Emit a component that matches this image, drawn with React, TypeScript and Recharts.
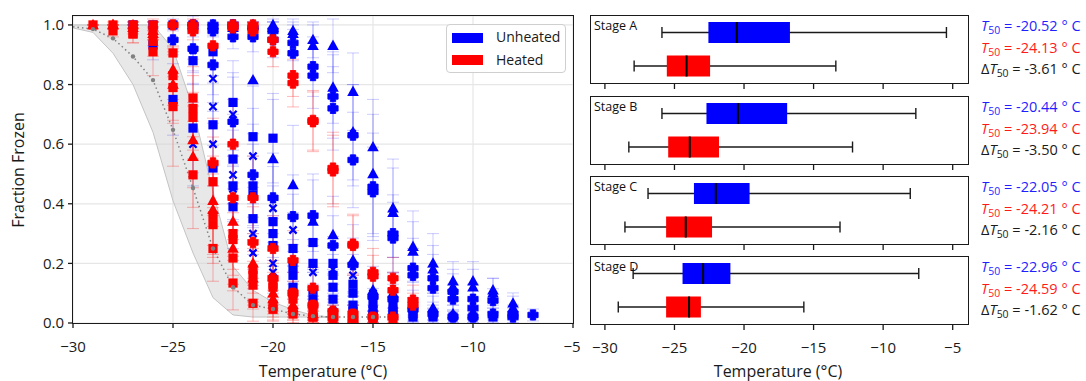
import React from 'react';
import {
  ComposedChart, Scatter, XAxis, YAxis, CartesianGrid, ErrorBar, Area, Line,
  BarChart, Bar,
} from 'recharts';

const FONT = "'Open Sans', 'DejaVu Sans', sans-serif";

// ---------- left panel data ----------
type Pt = [number, number, number]; // temperature, fraction frozen, error

const xTicks = [-30, -25, -20, -15, -10, -5];
const yTicks = [0, 0.2, 0.4, 0.6, 0.8, 1.0];

const refTemps = [-30, -29, -28, -27, -26, -25, -24, -23, -22, -21, -20, -19, -18, -17, -16, -15, -14];
const refMean = [0.994, 0.986, 0.955, 0.894, 0.815, 0.648, 0.453, 0.25, 0.12, 0.06, 0.047, 0.03, 0.023, 0.02, 0.02, 0.02, 0.02];
const bandLow: (number | null)[] = [0.99, 0.975, 0.905, 0.8, 0.64, 0.41, 0.235, 0.085, 0.027, 0.02, 0.02, 0.02, 0.02, 0.018, null, null, null];
const bandHigh: (number | null)[] = [1.0, 1.0, 1.0, 1.0, 1.0, 0.92, 0.72, 0.44, 0.19, 0.11, 0.07, 0.045, 0.025, 0.02, null, null, null];

const unheatedTri1: Pt[] = [[-24,1.0,0],[-23,1.0,0],[-22,1.0,0.01],[-21,1.0,0.01],[-20,1.0,0.02],[-19,0.98,0.04],[-18,0.95,0.06],[-17,0.93,0.09],[-16,0.776,0.13],[-15,0.59,0.16],[-14,0.385,0.165],[-13,0.256,0.12],[-12,0.2,0.1],[-11,0.14,0.066],[-10,0.14,0.066],[-9,0.11,0.04],[-8,0.066,0.035]];
const unheatedTri2: Pt[] = [[-22,1.0,0],[-21,1.0,0.01],[-20,0.99,0.02],[-19,0.97,0.04],[-18,0.93,0.07],[-17,0.79,0.12],[-16,0.64,0.16],[-15,0.5,0.2],[-14,0.37,0.15],[-13,0.24,0.1],[-12,0.18,0.08],[-11,0.12,0.06],[-10,0.12,0.06],[-9,0.1,0.05],[-8,0.05,0.04]];
const unheatedTri3: Pt[] = [[-24,1.0,0],[-23,1.0,0.01],[-22,0.99,0.02],[-21,0.815,0.18],[-20,0.55,0.2],[-19,0.463,0.2],[-18,0.34,0.16],[-17,0.295,0.13],[-16,0.21,0.12],[-15,0.11,0.08],[-14,0.1,0.07],[-13,0.06,0.05],[-12,0.05,0.04],[-11,0.03,0.03],[-10,0.03,0.03],[-9,0.03,0.02],[-8,0.03,0.02]];
const unheatedPlus1: Pt[] = [[-23,1.0,0],[-22,1.0,0.01],[-21,0.99,0.02],[-20,0.98,0.03],[-19,0.94,0.06],[-18,0.86,0.1],[-17,0.76,0.14],[-16,0.63,0.17],[-15,0.457,0.18],[-14,0.3,0.13],[-13,0.184,0.1],[-12,0.15,0.08],[-11,0.105,0.06],[-10,0.08,0.05],[-9,0.075,0.04],[-8,0.03,0.03],[-7,0.027,0.02]];
const unheatedPlus2: Pt[] = [[-24,1.0,0],[-23,0.98,0.02],[-22,0.96,0.04],[-21,0.96,0.05],[-20,0.95,0.06],[-19,0.905,0.08],[-18,0.83,0.11],[-17,0.72,0.14],[-16,0.547,0.16],[-15,0.44,0.15],[-14,0.285,0.12],[-13,0.16,0.09],[-12,0.117,0.07],[-11,0.08,0.05],[-10,0.05,0.04],[-9,0.03,0.03],[-8,0.02,0.02]];
const unheatedPlus3: Pt[] = [[-25,0.95,0.05],[-24,0.92,0.08],[-23,0.866,0.1],[-22,0.675,0.15],[-21,0.497,0.17],[-20,0.42,0.15],[-19,0.357,0.14],[-18,0.36,0.12],[-17,0.26,0.1],[-16,0.195,0.09],[-15,0.088,0.06],[-14,0.08,0.05],[-13,0.045,0.04],[-12,0.03,0.03],[-11,0.02,0.02],[-10,0.02,0.02]];
const unheatedSquare1: Pt[] = [[-27,1.0,0],[-26,1.0,0.01],[-25,1.0,0.02],[-24,1.0,0.03],[-23,0.91,0.08],[-22,0.74,0.14],[-21,0.625,0.17],[-20,0.62,0.15],[-19,0.25,0.12],[-18,0.27,0.1],[-17,0.2,0.09],[-16,0.13,0.07],[-15,0.066,0.05],[-14,0.06,0.04],[-13,0.03,0.03],[-12,0.03,0.02],[-11,0.02,0.02],[-10,0.02,0.02],[-9,0.02,0.02]];
const unheatedSquare2: Pt[] = [[-26,0.933,0.05],[-25,0.75,0.12],[-24,0.654,0.15],[-23,0.665,0.14],[-22,0.55,0.15],[-21,0.46,0.14],[-20,0.34,0.12],[-19,0.19,0.09],[-18,0.2,0.08],[-17,0.16,0.07],[-16,0.1,0.06],[-15,0.044,0.04],[-14,0.04,0.03],[-13,0.02,0.02],[-12,0.02,0.02]];
const unheatedSquare3: Pt[] = [[-24,0.88,0.08],[-23,0.52,0.15],[-22,0.39,0.14],[-21,0.43,0.13],[-20,0.3,0.11],[-19,0.16,0.08],[-18,0.11,0.06],[-17,0.12,0.06],[-16,0.06,0.04],[-15,0.03,0.03],[-14,0.03,0.02]];
const unheatedSquare4: Pt[] = [[-22,0.46,0.12],[-21,0.35,0.12],[-20,0.26,0.1],[-19,0.12,0.07],[-18,0.08,0.05],[-17,0.08,0.05],[-16,0.04,0.03],[-15,0.02,0.02]];
const unheatedX1: Pt[] = [[-24,0.916,0.07],[-23,0.82,0.11],[-22,0.7,0.14],[-21,0.56,0.16],[-20,0.385,0.14],[-19,0.312,0.12],[-18,0.17,0.09],[-17,0.18,0.08],[-16,0.16,0.07],[-15,0.1,0.06],[-14,0.05,0.04]];
const unheatedX2: Pt[] = [[-24,0.6,0.14],[-23,0.726,0.13],[-22,0.497,0.15],[-21,0.235,0.12],[-20,0.2,0.1],[-19,0.1,0.07],[-18,0.05,0.04],[-17,0.04,0.03],[-16,0.03,0.03]];
const unheatedX3: Pt[] = [[-23,0.6,0.14],[-22,0.45,0.14],[-21,0.3,0.12],[-20,0.17,0.09],[-19,0.08,0.06],[-18,0.05,0.04],[-17,0.03,0.03]];

const heatedPlus1: Pt[] = [[-22,1.0,0.01],[-21,1.0,0.01],[-20,0.95,0.04],[-19,0.83,0.07],[-18,0.68,0.1],[-17,0.52,0.12],[-16,0.265,0.1],[-15,0.17,0.08],[-14,0.15,0.07],[-13,0.077,0.05]];
const heatedPlus2: Pt[] = [[-22,0.99,0.01],[-21,0.98,0.02],[-20,0.91,0.05],[-19,0.805,0.08],[-18,0.675,0.1],[-17,0.51,0.12],[-16,0.26,0.1],[-15,0.157,0.07],[-14,0.11,0.06],[-13,0.06,0.04]];
const heatedPlus3: Pt[] = [[-25,1.0,0.01],[-24,1.0,0.02],[-23,0.93,0.06],[-22,0.6,0.15],[-21,0.42,0.14],[-20,0.25,0.11],[-19,0.21,0.1],[-18,0.117,0.07],[-17,0.04,0.04],[-16,0.03,0.03],[-15,0.02,0.02],[-14,0.02,0.02]];
const heatedPlus4: Pt[] = [[-24,0.98,0.03],[-23,0.537,0.15],[-22,0.42,0.14],[-21,0.27,0.12],[-20,0.15,0.09],[-19,0.1,0.07],[-18,0.06,0.05],[-17,0.02,0.02],[-16,0.01,0.01]];
const heatedTri1: Pt[] = [[-29,1.0,0],[-28,1.0,0],[-27,1.0,0.01],[-26,0.98,0.03],[-25,0.85,0.1],[-24,0.614,0.16],[-23,0.41,0.15],[-22,0.34,0.13],[-21,0.2,0.1],[-20,0.1,0.07],[-19,0.06,0.05],[-18,0.03,0.03],[-17,0.02,0.02]];
const heatedTri2: Pt[] = [[-28,1.0,0],[-27,0.99,0.02],[-26,0.97,0.04],[-25,0.8,0.12],[-24,0.558,0.17],[-23,0.38,0.15],[-22,0.25,0.12],[-21,0.15,0.09],[-20,0.08,0.06],[-19,0.05,0.04],[-18,0.03,0.03]];
const heatedSquare1: Pt[] = [[-29,1.0,0],[-28,1.0,0.01],[-27,0.97,0.03],[-26,0.945,0.05],[-25,0.906,0.08],[-24,0.72,0.14],[-23,0.33,0.13],[-22,0.218,0.11],[-21,0.127,0.08],[-20,0.06,0.05],[-19,0.04,0.04],[-18,0.02,0.02],[-17,0.01,0.01]];
const heatedSquare2: Pt[] = [[-28,0.98,0.02],[-27,0.97,0.03],[-26,0.91,0.08],[-25,0.726,0.2],[-24,0.497,0.18],[-23,0.25,0.11],[-22,0.134,0.09],[-21,0.066,0.06],[-20,0.046,0.04],[-19,0.03,0.03],[-18,0.02,0.02]];
const heatedSquare3: Pt[] = [[-27,1.0,0.01],[-26,1.0,0.02],[-25,0.83,0.1],[-24,0.69,0.14],[-23,0.474,0.15],[-22,0.3,0.12],[-21,0.18,0.1],[-20,0.12,0.08],[-19,0.1,0.07],[-18,0.06,0.05],[-17,0.03,0.03],[-16,0.03,0.03],[-15,0.02,0.02],[-14,0.01,0.01]];
const heatedSquare4: Pt[] = [[-26,0.98,0.03],[-25,0.79,0.12],[-24,0.755,0.13],[-23,0.36,0.14],[-22,0.28,0.12],[-21,0.16,0.09],[-20,0.13,0.08],[-19,0.08,0.06],[-18,0.04,0.04],[-17,0.02,0.02],[-16,0.02,0.02],[-15,0.01,0.01]];

// ---------- right panel data ----------
const stageNames = ['Stage A', 'Stage B', 'Stage C', 'Stage D'];
const unheatedWhiskerLow = [-25.9, -25.9, -26.9, -27.97];
const unheatedQ1 = [-22.56, -22.7, -23.6, -24.42];
const unheatedMedian = [-20.52, -20.44, -22.03, -22.94];
const unheatedQ3 = [-16.7, -16.9, -19.6, -20.98];
const unheatedWhiskerHigh = [-5.45, -7.65, -8.05, -7.44];
const heatedWhiskerLow = [-27.9, -28.28, -28.56, -29.04];
const heatedQ1 = [-25.55, -25.45, -25.6, -25.6];
const heatedMedian = [-24.13, -23.9, -24.19, -23.95];
const heatedQ3 = [-22.44, -21.8, -22.3, -23.1];
const heatedWhiskerHigh = [-13.4, -12.2, -13.1, -15.7];
const unheatedT50 = ['-20.52', '-20.44', '-22.05', '-22.96'];
const heatedT50 = ['-24.13', '-23.94', '-24.21', '-24.59'];
const deltaT50 = ['-3.61', '-3.50', '-2.16', '-1.62'];

const BLUE = '#0000ff';
const RED = '#ff0000';

// ---------- helpers ----------
type Marker = 'square' | 'triangle' | 'plus' | 'x';

const makeShape = (kind: Marker, color: string) => (props: any) => {
  const { cx, cy } = props;
  if (typeof cx !== 'number' || typeof cy !== 'number') return <g />;
  if (kind === 'square') {
    return <rect x={cx - 4.6} y={cy - 4.6} width={9.2} height={9.2} fill={color} />;
  }
  if (kind === 'triangle') {
    return <polygon points={`${cx},${cy - 6.2} ${cx + 5.8},${cy + 4.2} ${cx - 5.8},${cy + 4.2}`} fill={color} />;
  }
  if (kind === 'plus') {
    const a = 2.7;
    const b = 5.1;
    const pts = [
      [cx - a, cy - b], [cx + a, cy - b], [cx + a, cy - a], [cx + b, cy - a], [cx + b, cy + a], [cx + a, cy + a],
      [cx + a, cy + b], [cx - a, cy + b], [cx - a, cy + a], [cx - b, cy + a], [cx - b, cy - a], [cx - a, cy - a],
    ].map((p) => p.join(',')).join(' ');
    return <polygon points={pts} fill={color} stroke={color} strokeWidth={0.9} strokeLinejoin="round" />;
  }
  const s = 3.6;
  return (
    <path
      d={`M${cx - s},${cy - s}L${cx + s},${cy + s}M${cx - s},${cy + s}L${cx + s},${cy - s}`}
      stroke={color}
      strokeWidth={2.3}
    />
  );
};

const toPoints = (arr: Pt[]) =>
  arr.map(([t, v, e]) => ({ t, v, err: [Math.min(e, v), Math.min(e, 1.03 - v)] }));

const scatterSeries: { name: string; color: string; marker: Marker; data: Pt[] }[] = [
  { name: 'u-sq1', color: BLUE, marker: 'square', data: unheatedSquare1 },
  { name: 'u-sq2', color: BLUE, marker: 'square', data: unheatedSquare2 },
  { name: 'u-sq3', color: BLUE, marker: 'square', data: unheatedSquare3 },
  { name: 'u-sq4', color: BLUE, marker: 'square', data: unheatedSquare4 },
  { name: 'u-x1', color: BLUE, marker: 'x', data: unheatedX1 },
  { name: 'u-x2', color: BLUE, marker: 'x', data: unheatedX2 },
  { name: 'u-x3', color: BLUE, marker: 'x', data: unheatedX3 },
  { name: 'u-pl1', color: BLUE, marker: 'plus', data: unheatedPlus1 },
  { name: 'u-pl2', color: BLUE, marker: 'plus', data: unheatedPlus2 },
  { name: 'u-pl3', color: BLUE, marker: 'plus', data: unheatedPlus3 },
  { name: 'u-tr1', color: BLUE, marker: 'triangle', data: unheatedTri1 },
  { name: 'u-tr2', color: BLUE, marker: 'triangle', data: unheatedTri2 },
  { name: 'u-tr3', color: BLUE, marker: 'triangle', data: unheatedTri3 },
  { name: 'h-sq1', color: RED, marker: 'square', data: heatedSquare1 },
  { name: 'h-sq2', color: RED, marker: 'square', data: heatedSquare2 },
  { name: 'h-sq3', color: RED, marker: 'square', data: heatedSquare3 },
  { name: 'h-sq4', color: RED, marker: 'square', data: heatedSquare4 },
  { name: 'h-tr1', color: RED, marker: 'triangle', data: heatedTri1 },
  { name: 'h-tr2', color: RED, marker: 'triangle', data: heatedTri2 },
  { name: 'h-pl1', color: RED, marker: 'plus', data: heatedPlus1 },
  { name: 'h-pl2', color: RED, marker: 'plus', data: heatedPlus2 },
  { name: 'h-pl3', color: RED, marker: 'plus', data: heatedPlus3 },
  { name: 'h-pl4', color: RED, marker: 'plus', data: heatedPlus4 },
];

const refRows = refTemps.map((t, i) => ({
  t,
  ref: refMean[i],
  band: bandLow[i] != null && bandHigh[i] != null ? [bandLow[i], bandHigh[i]] : undefined,
}));

const fmtMinus = (v: number) => (v < 0 ? `\u2212${Math.abs(v)}` : `${v}`);

const tickStyle = { fontSize: 15, fill: '#1a1a1a', fontFamily: FONT };

// ---------- box plot shape ----------
const BoxShape = (props: any) => {
  const { x, y, width, height, payload } = props;
  if (typeof x !== 'number' || !payload) return <g />;
  const [lo, hi] = payload.range;
  const px = (v: number) => x + ((v - lo) / (hi - lo)) * width;
  const cy = y + height / 2;
  const capH = 5.5;
  return (
    <g>
      <line x1={x} x2={x + width} y1={cy} y2={cy} stroke="#1a1a1a" strokeWidth={1.4} />
      <line x1={x} x2={x} y1={cy - capH} y2={cy + capH} stroke="#1a1a1a" strokeWidth={1.4} />
      <line x1={x + width} x2={x + width} y1={cy - capH} y2={cy + capH} stroke="#1a1a1a" strokeWidth={1.4} />
      <rect x={px(payload.q1)} y={y} width={px(payload.q3) - px(payload.q1)} height={height} fill={payload.color} />
      <line x1={px(payload.med)} x2={px(payload.med)} y1={y} y2={y + height} stroke="#000" strokeWidth={2} />
    </g>
  );
};

const stageTops = [16, 97, 177, 257];
const PLOT_H = 67;

const StagePanel = ({ i }: { i: number }) => {
  const rows = [
    {
      name: 'Unheated', color: BLUE,
      range: [unheatedWhiskerLow[i], unheatedWhiskerHigh[i]],
      q1: unheatedQ1[i], med: unheatedMedian[i], q3: unheatedQ3[i],
    },
    {
      name: 'Heated', color: RED,
      range: [heatedWhiskerLow[i], heatedWhiskerHigh[i]],
      q1: heatedQ1[i], med: heatedMedian[i], q3: heatedQ3[i],
    },
  ];
  const last = i === stageNames.length - 1;
  const axisH = last ? 40 : 8;
  const top = stageTops[i];
  return (
    <>
      <div style={{ position: 'absolute', left: 591, top }}>
        <BarChart
          layout="vertical"
          width={377}
          height={PLOT_H + axisH}
          data={rows}
          margin={{ top: 0, right: 0, bottom: 0, left: 0 }}
        >
          <XAxis
            type="number"
            domain={[-31, -3.9]}
            ticks={xTicks}
            allowDataOverflow
            height={axisH}
            axisLine={false}
            tickSize={6}
            tickMargin={12}
            tickLine={{ stroke: '#1a1a1a', strokeWidth: 1.3 }}
            tick={tickStyle}
            tickFormatter={last ? fmtMinus : () => ''}
          />
          <YAxis type="category" dataKey="name" hide />
          <Bar dataKey="range" barSize={21} shape={BoxShape} isAnimationActive={false} />
        </BarChart>
      </div>
      <div
        style={{
          position: 'absolute', left: 590, top: top - 1, width: 379, height: PLOT_H + 2,
          border: '1.6px solid #1a1a1a', boxSizing: 'border-box', pointerEvents: 'none',
        }}
      />
      <div style={{ position: 'absolute', left: 594, top: top + 1, fontSize: 12.5, lineHeight: '17px', color: '#111' }}>
        {stageNames[i]}
      </div>
      {[
        { color: '#1f1fff', pre: '', val: unheatedT50[i], off: 10 },
        { color: '#ff1a1a', pre: '', val: heatedT50[i], off: 31.5 },
        { color: '#1a1a1a', pre: '\u0394', val: deltaT50[i], off: 52.5 },
      ].map((r, k) => (
        <div
          key={k}
          style={{
            position: 'absolute', left: 981, top: top + r.off - 10, fontSize: 14.5, lineHeight: '20px',
            color: r.color, whiteSpace: 'nowrap',
          }}
        >
          {r.pre}
          <i>T</i>
          <span style={{ fontSize: '0.72em', position: 'relative', top: '0.32em' }}>50</span>
          {` = ${r.val} \u00b0 C`}
        </div>
      ))}
    </>
  );
};

export default function App() {
  return (
    <div
      style={{
        position: 'absolute', left: 0, top: 0, width: 1086, height: 381, background: '#fff',
        fontFamily: FONT, overflow: 'hidden',
      }}
    >
      <div style={{ position: 'absolute', left: 0, top: 0 }}>
        <ComposedChart width={580} height={381} data={refRows} margin={{ top: 16, right: 7, bottom: 0, left: 0 }}>
          <CartesianGrid stroke="#e6e6e6" strokeWidth={1.2} />
          <XAxis
            type="number"
            dataKey="t"
            domain={[-30, -5]}
            ticks={xTicks}
            allowDataOverflow
            height={58}
            axisLine={false}
            tickSize={5}
            tickMargin={13}
            tickLine={{ stroke: '#1a1a1a', strokeWidth: 1.3 }}
            tick={tickStyle}
            tickFormatter={fmtMinus}
          />
          <YAxis
            type="number"
            domain={[0, 1.03]}
            ticks={yTicks}
            allowDataOverflow
            width={73}
            axisLine={false}
            tickSize={5}
            tickMargin={4}
            tickLine={{ stroke: '#1a1a1a', strokeWidth: 1.3 }}
            tick={tickStyle}
            tickFormatter={(v: number) => v.toFixed(1)}
          />
          <Area
            dataKey="band"
            stroke="#c4c4c4"
            strokeWidth={1}
            fill="#d6d6d6"
            fillOpacity={0.55}
            isAnimationActive={false}
            connectNulls={false}
          />
          {scatterSeries.map((s) => (
            <Scatter
              key={s.name}
              name={s.name}
              data={toPoints(s.data)}
              dataKey="v"
              fill={s.color}
              shape={makeShape(s.marker, s.color)}
              isAnimationActive={false}
            >
              <ErrorBar
                dataKey="err"
                direction="y"
                width={6}
                stroke={s.color === BLUE ? 'rgba(40,40,255,0.22)' : 'rgba(255,40,40,0.3)'}
                strokeWidth={1.1}
              />
            </Scatter>
          ))}
          <Line
            dataKey="ref"
            stroke="#808080"
            strokeWidth={1.5}
            strokeDasharray="1.5 3"
            isAnimationActive={false}
            dot={(p: any) =>
              p.payload && p.payload.t > -30 && p.payload.t < -14.5 ? (
                <circle key={`d${p.index}`} cx={p.cx} cy={p.cy} r={2.2} fill="#808080" />
              ) : (
                <g key={`d${p.index}`} />
              )
            }
          />
        </ComposedChart>
      </div>
      <div
        style={{
          position: 'absolute', left: 72, top: 15, width: 502, height: 309,
          border: '1.6px solid #1a1a1a', boxSizing: 'border-box', pointerEvents: 'none',
        }}
      />
      {/* legend */}
      <div
        style={{
          position: 'absolute', left: 446, top: 24, width: 120, height: 49, border: '1px solid #cfcfcf',
          borderRadius: 4, background: 'rgba(255,255,255,0.9)', boxSizing: 'border-box',
        }}
      />
      <div style={{ position: 'absolute', left: 452, top: 33, width: 31, height: 10, background: BLUE }} />
      <div style={{ position: 'absolute', left: 452, top: 55, width: 31, height: 10, background: RED }} />
      <div style={{ position: 'absolute', left: 496, top: 27, fontSize: 14, lineHeight: '20px', color: '#1a1a1a' }}>Unheated</div>
      <div style={{ position: 'absolute', left: 496, top: 50, fontSize: 14, lineHeight: '20px', color: '#1a1a1a' }}>Heated</div>
      {/* axis titles */}
      <div
        style={{
          position: 'absolute', left: 18, top: 170, transform: 'translate(-50%, -50%) rotate(-90deg)',
          fontSize: 16, whiteSpace: 'nowrap', color: '#1a1a1a',
        }}
      >
        Fraction Frozen
      </div>
      <div
        style={{
          position: 'absolute', left: 323, top: 371, transform: 'translate(-50%, -50%)',
          fontSize: 16, whiteSpace: 'nowrap', color: '#1a1a1a',
        }}
      >
        Temperature (°C)
      </div>
      <div
        style={{
          position: 'absolute', left: 778, top: 371, transform: 'translate(-50%, -50%)',
          fontSize: 16, whiteSpace: 'nowrap', color: '#1a1a1a',
        }}
      >
        Temperature (°C)
      </div>
      {stageNames.map((_, i) => (
        <StagePanel key={i} i={i} />
      ))}
    </div>
  );
}
